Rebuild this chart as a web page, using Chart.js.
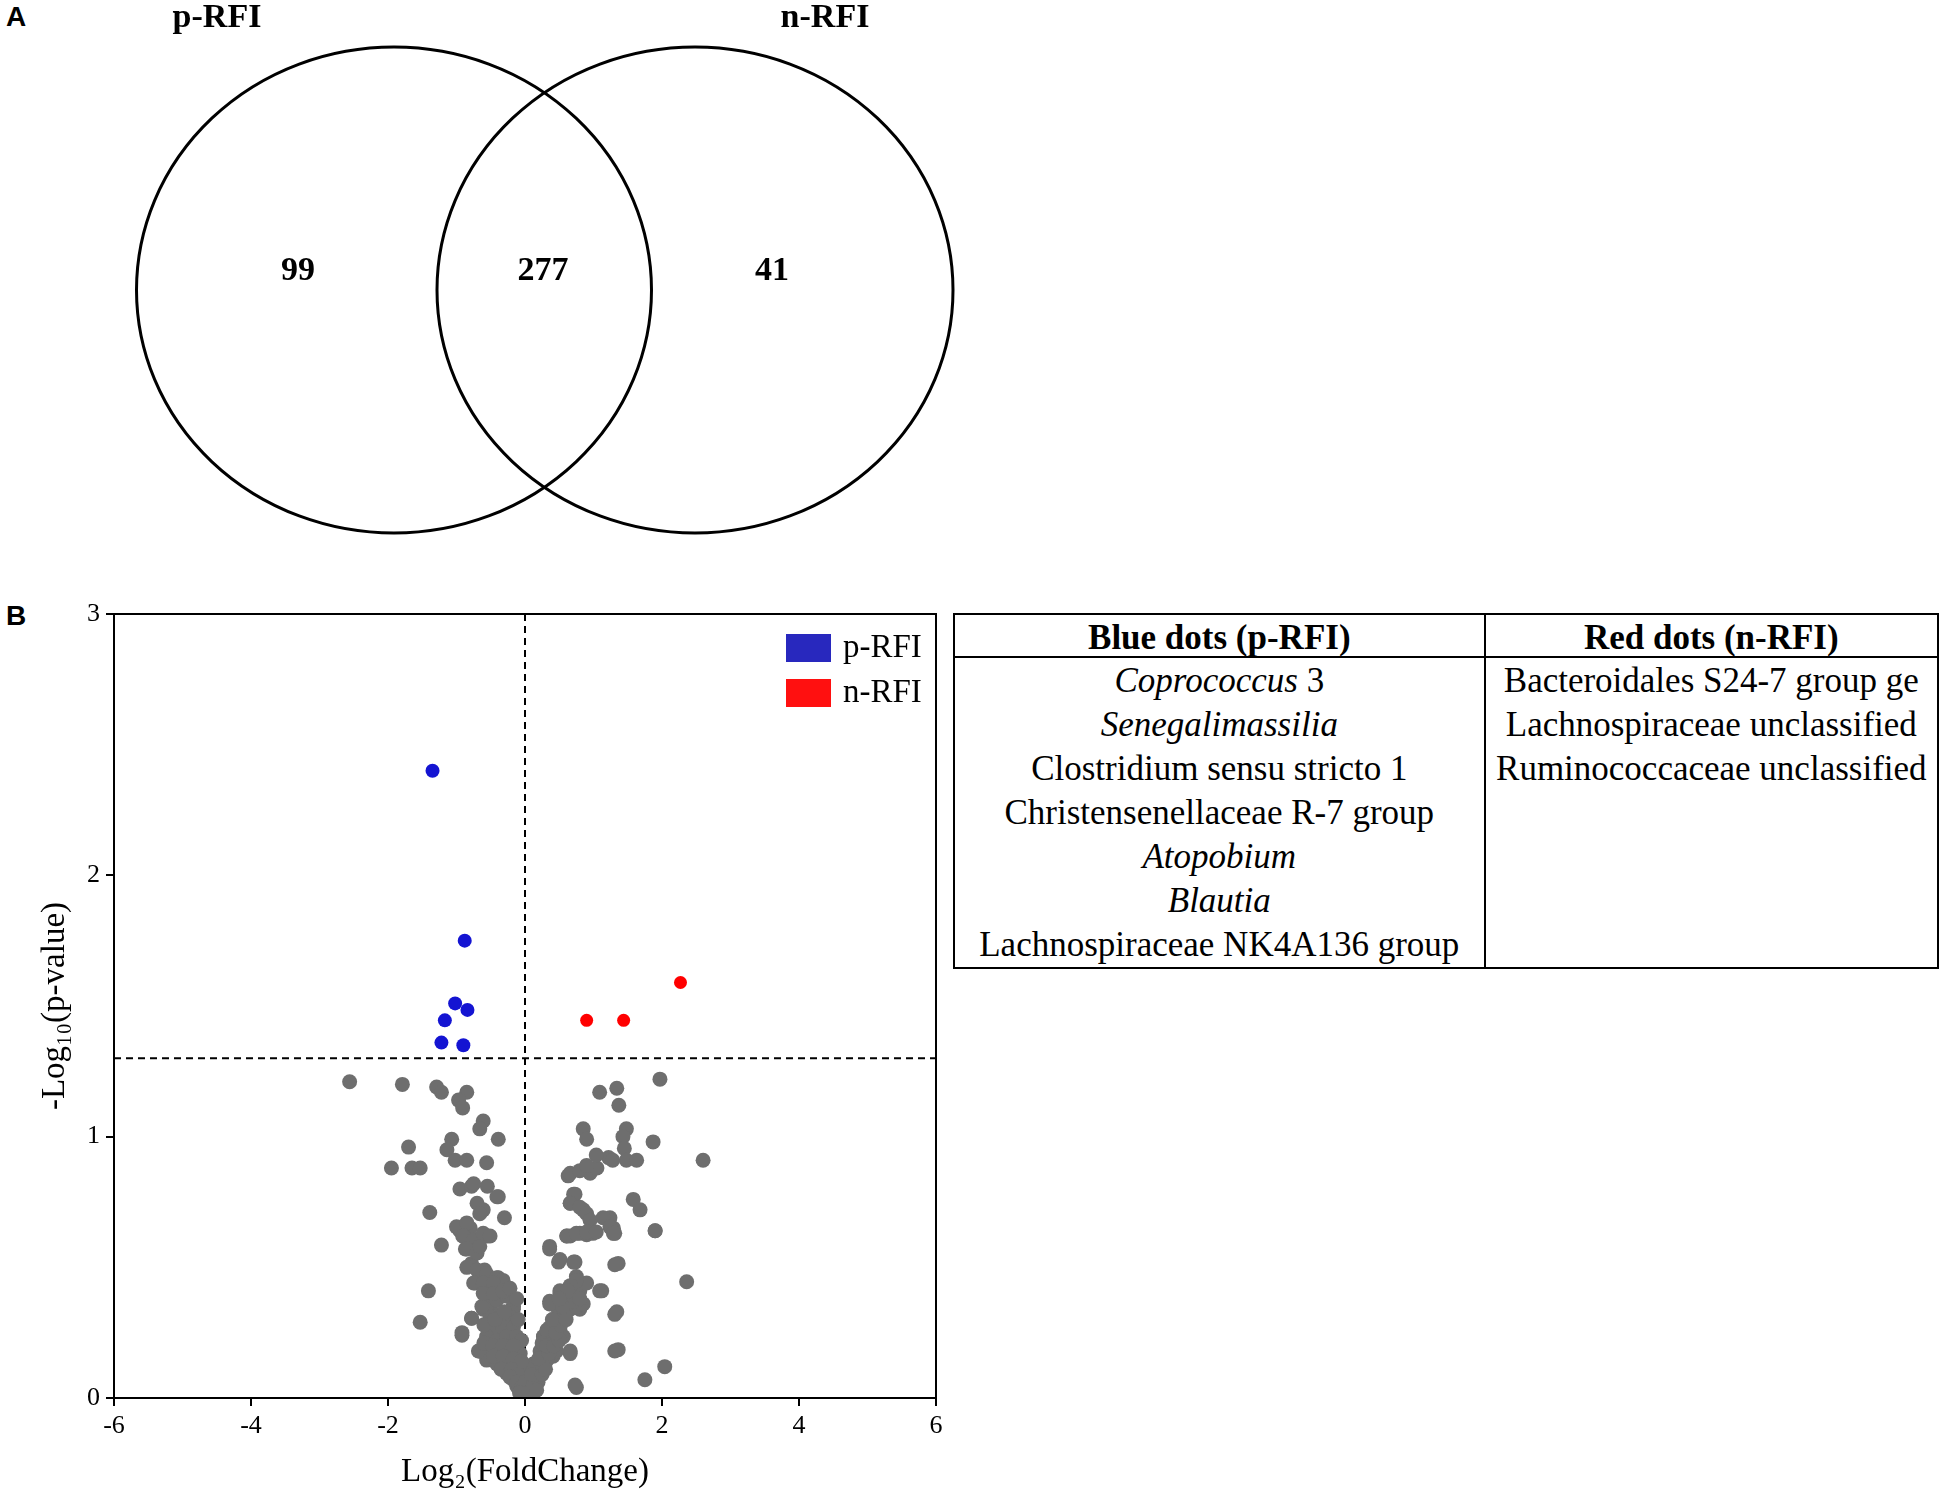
<!DOCTYPE html>
<html>
<head>
<meta charset="utf-8">
<script src="https://cdn.jsdelivr.net/npm/chart.js@4.4.0/dist/chart.umd.min.js"></script>
<style>
  body { margin: 0; background: #fff; width: 1945px; height: 1495px; position: relative; overflow: hidden; }
  .panel { position: absolute; font: bold 28px "Liberation Sans", sans-serif; }
  #vennCanvas { position: absolute; left: 0; top: 0; }
  #volcanoCanvas { position: absolute; left: 0; top: 590px; }
  #taxa {
    position: absolute; left: 953px; top: 613px; width: 986px;
    border-collapse: collapse; border: 2px solid #000;
    font: 35px "Liberation Serif", serif; color: #000;
  }
  #taxa th { font-weight: bold; height: 36px; line-height: 36px; padding: 5px 0 0 0; border: 2px solid #000; }
  #taxa td { vertical-align: top; text-align: center; padding: 1px 0 0 0;
             line-height: 44px; border-left: 2px solid #000; white-space: nowrap; }
</style>
</head>
<body>
<div class="panel" style="left:6px;top:1px;">A</div>
<div class="panel" style="left:6px;top:600px;">B</div>
<canvas id="vennCanvas" width="960" height="580"></canvas>
<canvas id="volcanoCanvas" width="950" height="905"></canvas>
<table id="taxa">
  <colgroup><col style="width:532px"><col style="width:454px"></colgroup>
  <thead><tr><th id="blueHead"></th><th id="redHead"></th></tr></thead>
  <tbody><tr><td id="blueCell"></td><td id="redCell"></td></tr></tbody>
</table>
<script>
// Venn (panel A)
const vennSets = ['p-RFI', 'n-RFI'];
const vennCounts = [99, 277, 41]; // p-RFI only, shared, n-RFI only

// volcano (panel B)
const xTicks = [-6, -4, -2, 0, 2, 4, 6];
const yTicks = [0, 1, 2, 3];
const pThreshold = 1.3;   // -log10(0.05)
const fcThreshold = 0;

const blueX = [-1.35, -0.88, -1.02, -0.84, -1.17, -1.22, -0.90];
const blueY = [2.40, 1.75, 1.51, 1.485, 1.445, 1.36, 1.35];
const redX = [0.90, 1.44, 2.27];
const redY = [1.445, 1.445, 1.59];

const grayX = [
  -2.56, -1.79, -1.29, -1.22, -0.85, -0.97, -0.91, -0.61, -0.66, -0.39, -1.70, -1.07, -1.14, -1.02, -0.85,
  -0.56, -1.95, -1.65, -1.53, -0.95, -0.78, -0.55, -0.39, -0.70, -0.61, -1.39, -0.30, -0.95, -0.80, -0.55,
  1.97, 1.09, 1.34, 1.37, 0.85, 0.90, 1.48, 1.43, 1.87, 1.45, 1.22, 1.48, 1.63, 2.60, 0.63,
  0.95, 1.05, 0.73, 0.66, 0.85, 1.58, 1.68, 1.24, 1.29, 1.90, 0.61, 0.80, 0.99,
  -1.22, -0.91, -0.68, -0.87, -0.78, -0.59, -0.39, -0.73, -0.49, -1.41, -0.39, -0.61, -0.17, -0.78, -1.53,
  -0.51, -0.41, -0.92, -0.36, -0.66, -0.26, -0.56, -0.22, -0.07, 0.01, -0.07, -0.17, -0.26, -0.49, -0.31,
  -0.12, -0.04, -0.26, 0.12,
  0.36, 0.66, 0.90, 1.31, 1.90, 0.49, 0.73, 1.36, 2.36, 0.75, 0.80, 0.51, 1.12, 0.36, 0.66,
  0.80, 1.34, 0.41, 0.51, 0.27, 0.41, 0.66, 0.32, 1.36, 2.04, 1.75, 0.75, 0.24, 0.19, 0.12,
  0.41, 0.19,
  -0.56, -0.41, -0.27, -0.17, -0.36, -0.51, -0.22, -0.63, -0.46, -0.32, -0.17, -0.56, -0.41, -0.27, -0.12,
  -0.51, -0.36, -0.22, -0.07, -0.66, -0.56, -0.41, -0.27, -0.12, -0.27, -0.17, -0.07, 0.02, 0.07, -0.02,
  -0.12, -0.78, -0.92, -0.68,
  0.07, 0.17, 0.22, 0.32, 0.27, 0.36, 0.27, 0.41, 0.36, 0.46, 0.56, 0.66, 0.75, 0.85, 0.46,
  0.56, 0.71, 0.80, 0.90, 0.75, 0.66, 0.51, 0.61, 0.66, 0.56, 0.36, 0.32, 0.22, 0.12, 0.46,
  1.09, 0.73,
  -0.75, -0.41, -0.66, -1.00, -0.85, -0.90, -0.75, -0.61, -0.51, -0.85, -0.70, -0.66, -0.85, -0.70, -0.56,
  -0.41, -0.32, -0.75, -0.61, -0.46,
  0.66, 0.80, 0.90, 1.04, 1.28, 0.71, 0.66, 0.80, 0.90, 0.95, 1.14, 1.24, 1.29, 0.61, 0.75,
  0.90, 1.04, 0.36, 0.51, 0.71, 1.31, 1.31, 1.31,
  -0.61, -0.46, -0.32, -0.22, -0.12, -0.60, -0.44, -0.30, -0.10, -0.05, -0.60, -0.47, -0.32, -0.17, -0.46,
  -0.32, -0.17, -0.05, -0.35, -0.20, -0.10, -0.22, -0.12, -0.05, 0.00, -0.08,
  0.05, 0.12, 0.17, 0.10, 0.25, 0.30, 0.20, 0.35, 0.25, 0.32, 0.42, 0.50, 0.45, 0.52, 0.40,
  0.60, 0.70, 0.62, 0.55, 0.80, 0.50
];
const grayY = [
  1.21, 1.20, 1.19, 1.17, 1.17, 1.14, 1.11, 1.06, 1.03, 0.99, 0.96, 0.99, 0.95, 0.91, 0.91,
  0.90, 0.88, 0.88, 0.88, 0.80, 0.81, 0.81, 0.77, 0.745, 0.72, 0.71, 0.69, 0.64, 0.65, 0.62,
  1.22, 1.17, 1.185, 1.12, 1.03, 0.99, 1.03, 1.00, 0.98, 0.955, 0.92, 0.91, 0.91, 0.91, 0.85,
  0.86, 0.88, 0.78, 0.745, 0.72, 0.76, 0.72, 0.69, 0.65, 0.64, 0.62, 0.63, 0.63,
  0.585, 0.62, 0.605, 0.57, 0.515, 0.49, 0.46, 0.44, 0.43, 0.41, 0.39, 0.34, 0.34, 0.305, 0.29,
  0.29, 0.26, 0.24, 0.22, 0.18, 0.16, 0.16, 0.11, 0.09, 0.02, 0.03, 0.35, 0.31, 0.36, 0.26,
  0.20, 0.13, 0.095, 0.04,
  0.58, 0.62, 0.625, 0.63, 0.64, 0.52, 0.52, 0.515, 0.445, 0.465, 0.425, 0.41, 0.41, 0.37, 0.39,
  0.34, 0.33, 0.30, 0.26, 0.235, 0.22, 0.17, 0.185, 0.185, 0.12, 0.07, 0.04, 0.13, 0.085, 0.02,
  0.16, 0.06,
  0.35, 0.375, 0.39, 0.35, 0.32, 0.31, 0.31, 0.35, 0.26, 0.27, 0.27, 0.235, 0.22, 0.235, 0.235,
  0.18, 0.18, 0.18, 0.17, 0.18, 0.145, 0.13, 0.145, 0.13, 0.095, 0.07, 0.055, 0.03, 0.005, 0.005,
  0.045, 0.305, 0.25, 0.18,
  0.055, 0.08, 0.12, 0.145, 0.18, 0.21, 0.235, 0.235, 0.27, 0.30, 0.31, 0.34, 0.35, 0.36, 0.35,
  0.39, 0.40, 0.41, 0.44, 0.45, 0.43, 0.40, 0.36, 0.18, 0.235, 0.36, 0.26, 0.18, 0.13, 0.18,
  0.41, 0.05,
  0.82, 0.77, 0.705, 0.655, 0.67, 0.62, 0.605, 0.63, 0.62, 0.57, 0.555, 0.58, 0.50, 0.49, 0.475,
  0.46, 0.45, 0.44, 0.44, 0.44,
  0.86, 0.87, 0.89, 0.93, 0.91, 0.78, 0.745, 0.73, 0.705, 0.68, 0.69, 0.655, 0.63, 0.62, 0.63,
  0.635, 0.635, 0.57, 0.53, 0.52, 0.51, 0.32, 0.18,
  0.40, 0.40, 0.41, 0.42, 0.38, 0.28, 0.30, 0.33, 0.30, 0.22, 0.21, 0.20, 0.20, 0.20, 0.16,
  0.16, 0.15, 0.14, 0.11, 0.11, 0.09, 0.08, 0.06, 0.04, 0.06, 0.02,
  0.02, 0.05, 0.03, 0.09, 0.09, 0.11, 0.15, 0.17, 0.21, 0.20, 0.20, 0.22, 0.25, 0.28, 0.30,
  0.30, 0.37, 0.41, 0.35, 0.38, 0.38
];

// table
const blueHeader = 'Blue dots (p-RFI)';
const redHeader = 'Red dots (n-RFI)';
// [italic part, plain part]
const blueTaxa = [
  ['Coprococcus', ' 3'],
  ['Senegalimassilia', ''],
  ['', 'Clostridium sensu stricto 1'],
  ['', 'Christensenellaceae R-7 group'],
  ['Atopobium', ''],
  ['Blautia', ''],
  ['', 'Lachnospiraceae NK4A136 group']
];
const redTaxa = [
  ['', 'Bacteroidales S24-7 group ge'],
  ['', 'Lachnospiraceae unclassified'],
  ['', 'Ruminococcaceae unclassified']
];

const colors = {
  gray: '#6e6e6e',
  blue: '#1414d2',
  red: '#ff0000',
  blueKey: '#2828be',
  redKey: '#ff1010'
};
const serif = '"Liberation Serif", "Times New Roman", serif';

function toPoints(xs, ys) {
  return xs.map((x, i) => ({ x: x, y: ys[i] }));
}

function fillTable() {
  document.getElementById('blueHead').textContent = blueHeader;
  document.getElementById('redHead').textContent = redHeader;
  function lines(list) {
    return list.map(t => '<div>' + (t[0] ? '<i>' + t[0] + '</i>' : '') + t[1] + '</div>').join('');
  }
  document.getElementById('blueCell').innerHTML = lines(blueTaxa);
  document.getElementById('redCell').innerHTML = lines(redTaxa);
}
fillTable();

// ---------- panel A ----------
// circle layout in canvas units (1 unit = 1 px)
const vennLayout = {
  circles: [{ cx: 394, cy: 290, rx: 257.5, ry: 243 }, { cx: 695, cy: 290, rx: 258, ry: 243 }],
  setLabels: [{ x: 217, y: 18 }, { x: 825, y: 18 }],
  counts: [{ x: 298, y: 271 }, { x: 543, y: 271 }, { x: 772, y: 271 }]
};

const vennPlugin = {
  id: 'venn',
  afterDraw(chart) {
    const ctx = chart.ctx;
    const sx = chart.scales.x, sy = chart.scales.y;
    const ux = sx.getPixelForValue(1) - sx.getPixelForValue(0);
    const uy = Math.abs(sy.getPixelForValue(1) - sy.getPixelForValue(0));
    ctx.save();
    ctx.strokeStyle = '#000';
    ctx.lineWidth = 3;
    vennLayout.circles.forEach(c => {
      ctx.beginPath();
      ctx.ellipse(sx.getPixelForValue(c.cx), sy.getPixelForValue(c.cy), c.rx * ux, c.ry * uy, 0, 0, Math.PI * 2);
      ctx.stroke();
    });
    ctx.fillStyle = '#000';
    ctx.font = 'bold 34px ' + serif;
    ctx.textAlign = 'center';
    ctx.textBaseline = 'middle';
    vennSets.forEach((s, i) => {
      const p = vennLayout.setLabels[i];
      ctx.fillText(s, sx.getPixelForValue(p.x), sy.getPixelForValue(p.y));
    });
    vennCounts.forEach((n, i) => {
      const p = vennLayout.counts[i];
      ctx.fillText(String(n), sx.getPixelForValue(p.x), sy.getPixelForValue(p.y));
    });
    ctx.restore();
  }
};

new Chart(document.getElementById('vennCanvas'), {
  type: 'scatter',
  data: { datasets: [] },
  options: {
    responsive: false,
    devicePixelRatio: 1,
    animation: false,
    events: [],
    layout: { padding: 0 },
    plugins: { legend: { display: false }, tooltip: { enabled: false } },
    scales: {
      x: { type: 'linear', min: 0, max: 960, display: false },
      y: { type: 'linear', min: 0, max: 580, reverse: true, display: false }
    }
  },
  plugins: [vennPlugin]
});

// ---------- panel B ----------
const guidePlugin = {
  id: 'guides',
  beforeDatasetsDraw(chart) {
    const { ctx, chartArea, scales } = chart;
    const yT = scales.y.getPixelForValue(pThreshold);
    const xT = scales.x.getPixelForValue(fcThreshold);
    ctx.save();
    ctx.strokeStyle = '#000';
    ctx.lineWidth = 2;
    ctx.setLineDash([7, 5]);
    ctx.beginPath();
    ctx.moveTo(chartArea.left, yT);
    ctx.lineTo(chartArea.right, yT);
    ctx.moveTo(xT, chartArea.top);
    ctx.lineTo(xT, chartArea.bottom);
    ctx.stroke();
    ctx.restore();
  },
  afterDatasetsDraw(chart) {
    const { ctx, chartArea } = chart;
    ctx.save();
    ctx.strokeStyle = '#000';
    ctx.lineWidth = 2;
    ctx.strokeRect(chartArea.left, chartArea.top, chartArea.right - chartArea.left, chartArea.bottom - chartArea.top);
    // legend in the upper right corner
    const keys = [['p-RFI', colors.blueKey], ['n-RFI', colors.redKey]];
    ctx.font = '33px ' + serif;
    ctx.textBaseline = 'middle';
    ctx.textAlign = 'left';
    keys.forEach((k, i) => {
      const y = chartArea.top + 20 + i * 45;
      ctx.fillStyle = k[1];
      ctx.fillRect(chartArea.right - 150, y, 45, 28);
      ctx.fillStyle = '#000';
      ctx.fillText(k[0], chartArea.right - 93, y + 14);
    });
    ctx.restore();
  }
};

new Chart(document.getElementById('volcanoCanvas'), {
  type: 'scatter',
  data: {
    datasets: [
      { label: 'other', data: toPoints(grayX, grayY), backgroundColor: colors.gray, pointRadius: 7.5, borderWidth: 0, order: 3 },
      { label: 'p-RFI', data: toPoints(blueX, blueY), backgroundColor: colors.blue, pointRadius: 7, borderWidth: 0, order: 1 },
      { label: 'n-RFI', data: toPoints(redX, redY), backgroundColor: colors.red, pointRadius: 6.5, borderWidth: 0, order: 2 }
    ]
  },
  options: {
    responsive: false,
    devicePixelRatio: 1,
    animation: false,
    events: [],
    layout: { padding: { top: 24, right: 14, left: 0, bottom: 0 } },
    plugins: { legend: { display: false }, tooltip: { enabled: false } },
    scales: {
      x: {
        type: 'linear', min: xTicks[0], max: xTicks[xTicks.length - 1],
        afterBuildTicks(scale) { scale.ticks = xTicks.map(v => ({ value: v })); },
        afterFit(scale) { scale.height = 97; },
        grid: { drawOnChartArea: false, drawTicks: true, tickLength: 8, color: '#000', lineWidth: 2 },
        border: { display: true, color: '#000', width: 2 },
        ticks: { color: '#000', padding: 5, font: { family: serif, size: 26 }, maxRotation: 0 },
        title: { display: true, text: 'Log\u2082(FoldChange)', color: '#000', font: { family: serif, size: 33 }, padding: { top: 0, bottom: 3 } }
      },
      y: {
        type: 'linear', min: yTicks[0], max: yTicks[yTicks.length - 1],
        afterBuildTicks(scale) { scale.ticks = yTicks.map(v => ({ value: v })); },
        afterFit(scale) { scale.width = 114; },
        grid: { drawOnChartArea: false, drawTicks: true, tickLength: 8, color: '#000', lineWidth: 2 },
        border: { display: true, color: '#000', width: 2 },
        ticks: { color: '#000', padding: 6, font: { family: serif, size: 26 } },
        title: { display: true, text: '-Log\u2081\u2080(p-value)', color: '#000', font: { family: serif, size: 33 }, padding: { top: 36, bottom: 0 } }
      }
    }
  },
  plugins: [guidePlugin]
});
</script>
</body>
</html>
